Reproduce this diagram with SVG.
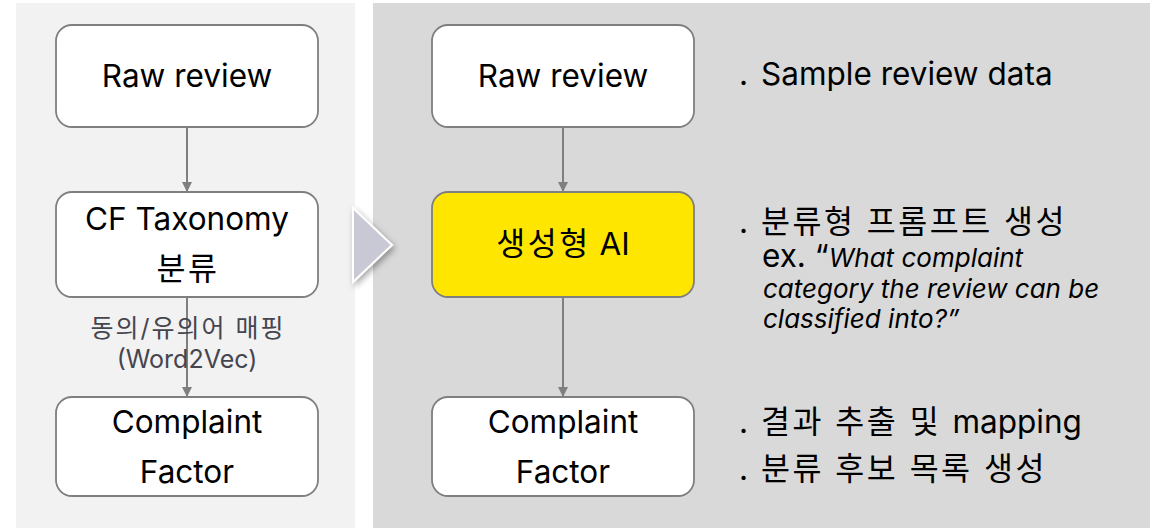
<svg xmlns="http://www.w3.org/2000/svg" width="1162" height="528" viewBox="0 0 1162 528">
<defs>
<style>
.box{fill:#ffffff;stroke:#7f7f7f;stroke-width:1.8}
.ai{fill:#ffe600;stroke:#7f7f7f;stroke-width:1.8}
.t{font-family:Inter,"Noto Sans CJK KR",sans-serif;font-size:31.5px;fill:#000;text-anchor:middle}
.lbl{font-family:Inter,"Noto Sans CJK KR",sans-serif;font-size:25px;fill:#45454f;text-anchor:middle}
.d{font-family:Inter,"Noto Sans CJK KR",sans-serif;font-size:31.5px;fill:#000}
.it{font-family:Inter,"Noto Sans CJK KR",sans-serif;font-size:26px;font-style:italic;fill:#000}
.k{letter-spacing:2.5px}
.c{stroke:#7f7f7f;stroke-width:2;fill:none}
</style>
<marker id="ah" viewBox="0 0 10 10" refX="10" refY="5" markerWidth="10" markerHeight="10" markerUnits="userSpaceOnUse" orient="auto">
<path d="M0,0 L10,5 L0,10 Z" fill="#7f7f7f"/>
</marker>
<filter id="sh" x="-50%" y="-50%" width="200%" height="200%">
<feDropShadow dx="2" dy="3" stdDeviation="3" flood-color="#000" flood-opacity="0.35"/>
</filter>
</defs>
<rect x="16" y="3" width="339" height="525" fill="#f2f2f2"/>
<rect x="373" y="3" width="777" height="525" fill="#d9d9d9"/>
<polygon points="353,208 392,245 353,282" fill="#c9c9d6" stroke="#ffffff" stroke-width="2" filter="url(#sh)"/>
<g id="connectors">
<line class="c" x1="187" y1="127" x2="187" y2="192" marker-end="url(#ah)"/>
<line class="c" x1="187" y1="297" x2="187" y2="397" marker-end="url(#ah)"/>
<line class="c" x1="563" y1="127" x2="563" y2="192" marker-end="url(#ah)"/>
<line class="c" x1="563" y1="297" x2="563" y2="397" marker-end="url(#ah)"/>
</g>
<g id="left-raw">
<rect class="box" x="56" y="25" width="262" height="102" rx="16"/>
<text class="t" x="187" y="87">Raw review</text>
</g>
<g id="left-cf">
<rect class="box" x="56" y="192" width="262" height="105" rx="16"/>
<text class="t" x="187" y="230">CF Taxonomy</text>
<text class="t k" x="188" y="280">분류</text>
</g>
<g id="left-label">
<text class="lbl" x="188" y="337" letter-spacing="2">동의/유의어 매핑</text>
<text class="lbl" x="187" y="368">(Word2Vec)</text>
</g>
<g id="left-complaint">
<rect class="box" x="56" y="397" width="262" height="99" rx="16"/>
<text class="t" x="187" y="433">Complaint</text>
<text class="t" x="187" y="483">Factor</text>
</g>
<g id="right-raw">
<rect class="box" x="432" y="25" width="262" height="102" rx="16"/>
<text class="t" x="563" y="87">Raw review</text>
</g>
<g id="right-ai">
<rect class="ai" x="432" y="192" width="262" height="105" rx="16"/>
<text class="t" x="563" y="255"><tspan class="k">생성형</tspan> AI</text>
</g>
<g id="right-complaint">
<rect class="box" x="432" y="397" width="262" height="99" rx="16"/>
<text class="t" x="563" y="433">Complaint</text>
<text class="t" x="563" y="483">Factor</text>
</g>
<g id="desc">
<text class="d" y="85"><tspan x="739">.</tspan><tspan x="761">Sample review data</tspan></text>
<text class="d" y="233"><tspan x="739">.</tspan><tspan class="k" x="761">분류형 프롬프트 생성</tspan></text>
<text x="762" y="267"><tspan class="d">ex. “</tspan><tspan class="it">What complaint</tspan></text>
<text class="it" x="763" y="298">category the review can be</text>
<text class="it" x="763" y="328">classified into?”</text>
<text class="d" y="433"><tspan x="739">.</tspan><tspan class="k" x="761">결과 추출 및 </tspan>mapping</text>
<text class="d" y="480"><tspan x="739">.</tspan><tspan class="k" x="761">분류 후보 목록 생성</tspan></text>
</g>
</svg>
